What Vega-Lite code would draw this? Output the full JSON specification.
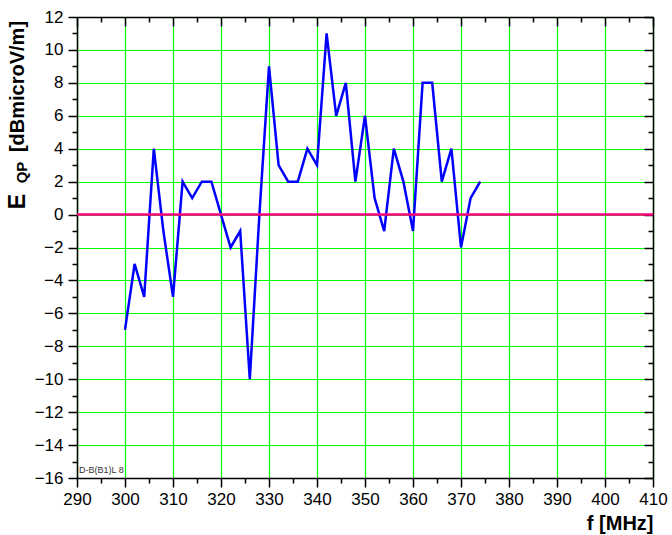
{
  "$schema": "https://vega.github.io/schema/vega-lite/v6.json",
  "width": 576,
  "height": 461,
  "padding": {"left": 6, "top": 8, "right": 2, "bottom": 2},
  "background": "white",
  "config": {
    "view": {"stroke": null},
    "font": "Liberation Sans",
    "axis": {
      "domainColor": "black",
      "domainWidth": 1.5,
      "tickColor": "black",
      "tickWidth": 1.5,
      "labelColor": "black",
      "labelFont": "Liberation Sans",
      "labelFontSize": 17,
      "titleColor": "black",
      "titleFont": "Liberation Sans",
      "titleFontWeight": "bold",
      "gridColor": "#00ff00",
      "gridOpacity": 1,
      "gridWidth": 1.2,
      "labelFlush": false,
      "zindex": 1
    }
  },
  "layer": [
    {
      "data": {
        "values": [
          {"f": 300, "e": -7}, {"f": 302, "e": -3}, {"f": 304, "e": -5}, {"f": 306, "e": 4},
          {"f": 308, "e": -1}, {"f": 310, "e": -5}, {"f": 312, "e": 2}, {"f": 314, "e": 1},
          {"f": 316, "e": 2}, {"f": 318, "e": 2}, {"f": 320, "e": 0}, {"f": 322, "e": -2},
          {"f": 324, "e": -1}, {"f": 326, "e": -10}, {"f": 328, "e": 0}, {"f": 330, "e": 9},
          {"f": 332, "e": 3}, {"f": 334, "e": 2}, {"f": 336, "e": 2}, {"f": 338, "e": 4},
          {"f": 340, "e": 3}, {"f": 342, "e": 11}, {"f": 344, "e": 6}, {"f": 346, "e": 8},
          {"f": 348, "e": 2}, {"f": 350, "e": 6}, {"f": 352, "e": 1}, {"f": 354, "e": -1},
          {"f": 356, "e": 4}, {"f": 358, "e": 2}, {"f": 360, "e": -1}, {"f": 362, "e": 8},
          {"f": 364, "e": 8}, {"f": 366, "e": 2}, {"f": 368, "e": 4}, {"f": 370, "e": -2},
          {"f": 372, "e": 1}, {"f": 374, "e": 2}
        ]
      },
      "mark": {"type": "line", "color": "#0000ff", "strokeWidth": 2.5},
      "encoding": {
        "x": {
          "field": "f", "type": "quantitative",
          "scale": {"domain": [290, 410], "nice": false, "zero": false},
          "axis": {
            "orient": "bottom",
            "values": [290, 300, 310, 320, 330, 340, 350, 360, 370, 380, 390, 400, 410],
            "grid": true, "tickSize": 9, "labelPadding": 4,
            "title": "f [MHz]", "titleFontSize": 20,
            "titleX": 576, "titleY": 51, "titleAlign": "right", "titleBaseline": "alphabetic"
          }
        },
        "y": {
          "field": "e", "type": "quantitative",
          "scale": {"domain": [-16, 12], "nice": false, "zero": false},
          "axis": {
            "orient": "left",
            "values": [-16, -14, -12, -10, -8, -6, -4, -2, 0, 2, 4, 6, 8, 10, 12],
            "grid": true, "tickSize": 9, "labelPadding": 5,
            "title": "[dBmicroV/m]", "titleFontSize": 20, "titleAngle": -90,
            "titleX": -54, "titleY": 69, "titleAlign": "center", "titleBaseline": "alphabetic"
          }
        }
      }
    },
    {
      "data": {"values": [{"zero": 0}]},
      "mark": {"type": "rule", "color": "#ff0080", "strokeWidth": 2.5},
      "encoding": {
        "x": {
          "datum": 290, "type": "quantitative",
          "axis": {
            "orient": "bottom",
            "values": [295, 305, 315, 325, 335, 345, 355, 365, 375, 385, 395, 405],
            "grid": false, "domain": false, "labels": false, "tickSize": 5, "title": null
          }
        },
        "x2": {"datum": 410},
        "y": {
          "datum": 0, "type": "quantitative",
          "axis": {
            "orient": "left",
            "values": [-15, -13, -11, -9, -7, -5, -3, -1, 1, 3, 5, 7, 9, 11],
            "grid": false, "domain": false, "labels": false, "tickSize": 5, "title": null
          }
        }
      }
    },
    {
      "data": {"values": [{"label": "D-B(B1)L 8"}]},
      "mark": {"type": "text", "align": "left", "baseline": "bottom", "dx": 2, "dy": -3, "fontSize": 9, "fontWeight": "normal", "color": "#333333", "font": "Liberation Sans"},
      "encoding": {
        "x": {
          "datum": 290, "type": "quantitative",
          "axis": {
            "orient": "top",
            "values": [290, 300, 310, 320, 330, 340, 350, 360, 370, 380, 390, 400, 410],
            "grid": false, "labels": false, "tickSize": -9, "title": null
          }
        },
        "y": {
          "datum": -16, "type": "quantitative",
          "axis": {
            "orient": "right",
            "values": [-16, -14, -12, -10, -8, -6, -4, -2, 0, 2, 4, 6, 8, 10, 12],
            "grid": false, "labels": false, "tickSize": -9, "title": null
          }
        },
        "text": {"field": "label"}
      }
    },
    {
      "data": {"values": [{"zero": 0}]},
      "mark": {"type": "rule", "opacity": 0},
      "encoding": {
        "x": {
          "datum": 290, "type": "quantitative",
          "axis": {
            "orient": "top",
            "values": [295, 305, 315, 325, 335, 345, 355, 365, 375, 385, 395, 405],
            "grid": false, "domain": false, "labels": false, "tickSize": -5, "title": null
          }
        },
        "x2": {"datum": 410},
        "y": {
          "datum": 0, "type": "quantitative",
          "axis": {
            "orient": "right",
            "values": [-15, -13, -11, -9, -7, -5, -3, -1, 1, 3, 5, 7, 9, 11],
            "grid": false, "domain": false, "labels": false, "tickSize": -5, "title": null
          }
        }
      }
    },
    {
      "data": {"values": [{"zero": 0}]},
      "mark": {"type": "rule", "opacity": 0},
      "encoding": {
        "y": {
          "datum": 0, "type": "quantitative",
          "axis": {
            "orient": "left",
            "values": [0],
            "grid": false, "domain": false, "labels": false, "ticks": false,
            "title": "QP", "titleFontSize": 15, "titleAngle": -90,
            "titleX": -51, "titleY": 155, "titleAlign": "center", "titleBaseline": "alphabetic"
          }
        }
      }
    },
    {
      "data": {"values": [{"zero": 0}]},
      "mark": {"type": "rule", "opacity": 0},
      "encoding": {
        "y": {
          "datum": 0, "type": "quantitative",
          "axis": {
            "orient": "left",
            "values": [0],
            "grid": false, "domain": false, "labels": false, "ticks": false,
            "title": ["E"], "titleFontSize": 23, "titleAngle": 270,
            "titleX": -53, "titleY": 184, "titleAlign": "center", "titleBaseline": "alphabetic"
          }
        }
      }
    }
  ],
  "resolve": {"axis": {"x": "independent", "y": "independent"}}
}
